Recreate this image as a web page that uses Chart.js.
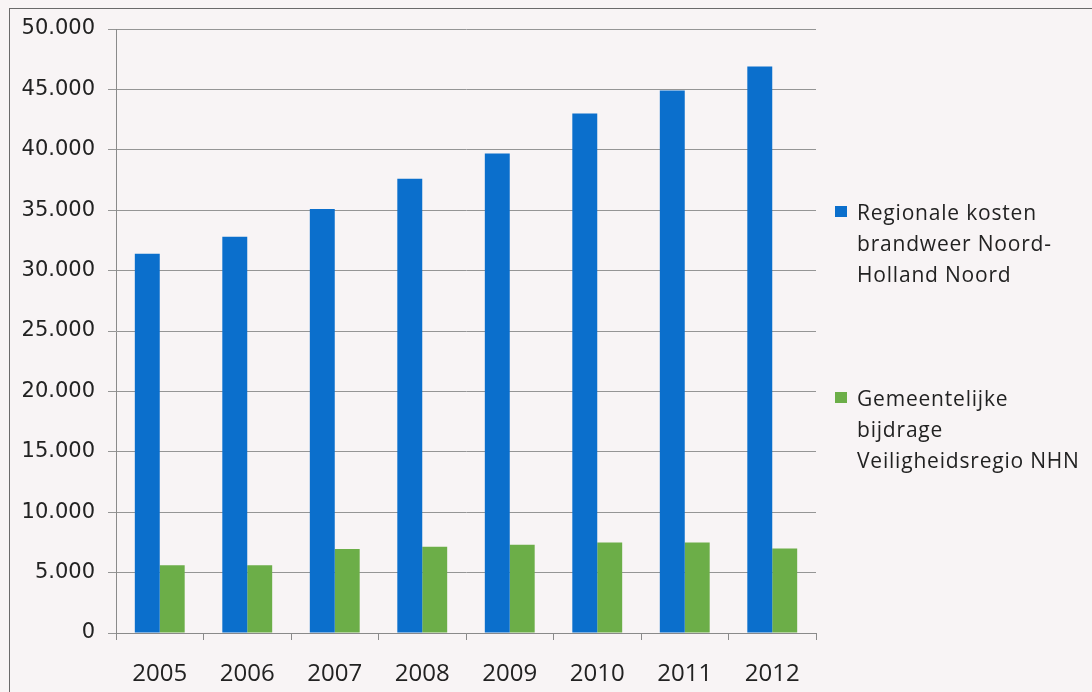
<!DOCTYPE html>
<html>
<head>
<meta charset="utf-8">
<script src="https://cdn.jsdelivr.net/npm/chart.js@4"></script>
<style>
    html, body { margin: 0; padding: 0; background: #f8f4f5; }
    #wrap { position: relative; width: 1092px; height: 692px; overflow: hidden; }
    #frame { position: absolute; left: 9px; top: 8px; width: 1200px; height: 800px; border: 1px solid #6a6a6a; }
    canvas { position: absolute; left: 0; top: 0; }
    .legend-item { position: absolute; left: 835px; font-family: "Open Sans", sans-serif; font-size: 21px; line-height: 31px; color: #222; letter-spacing: 0.8px; }
    .legend-item .box { position: absolute; left: 0; top: 9px; width: 12px; height: 11px; }
    .legend-item .txt { margin-left: 22px; white-space: nowrap; }
</style>
</head>
<body>
<div id="wrap">
    <div id="frame"></div>
    <canvas id="chart" width="1092" height="692"></canvas>
    <div id="legend"></div>
</div>
<script>
// ================== Data ==================
const years = ["2005", "2006", "2007", "2008", "2009", "2010", "2011", "2012"];
const regionaleKosten = [31400, 32800, 35100, 37600, 39700, 43000, 44900, 46900];
const gemeentelijkeBijdrage = [5600, 5600, 6950, 7150, 7300, 7500, 7500, 7000];
const seriesLabels = [
    ["Regionale kosten", "brandweer Noord-", "Holland Noord"],
    ["Gemeentelijke", "bijdrage", "Veiligheidsregio NHN"]
];
const seriesColors = ["#0b6fcc", "#6cae48"];
const yTicks = [0, 5000, 10000, 15000, 20000, 25000, 30000, 35000, 40000, 45000, 50000];

// ================== Legend (html) ==================
const legendTops = [197, 383];
const legend = document.getElementById("legend");
seriesLabels.forEach((lines, i) => {
    const item = document.createElement("div");
    item.className = "legend-item";
    item.style.top = legendTops[i] + "px";
    item.innerHTML = `<span class="box" style="background:${seriesColors[i]}"></span>` +
        `<div class="txt">${lines.join("<br>")}</div>`;
    legend.appendChild(item);
});

// ================== Chart ==================
const fmt = v => v === 0 ? "0" : v.toLocaleString("nl-NL");

new Chart(document.getElementById("chart"), {
    type: "bar",
    data: {
        labels: years,
        datasets: [
            { label: seriesLabels[0].join(" "), data: regionaleKosten, backgroundColor: seriesColors[0] },
            { label: seriesLabels[1].join(" "), data: gemeentelijkeBijdrage, backgroundColor: seriesColors[1] }
        ]
    },
    options: {
        responsive: false,
        animation: false,
        devicePixelRatio: 1,
        layout: { padding: { top: 29, right: 276, left: 0, bottom: 0 } },
        datasets: { bar: { barPercentage: 1, categoryPercentage: 0.57 } },
        plugins: { legend: { display: false }, tooltip: { enabled: false } },
        scales: {
            x: {
                afterFit: s => { s.height = 59; },
                grid: { drawOnChartArea: false, offset: true, tickLength: 7, color: "#8a8a8a" },
                border: { color: "#8a8a8a" },
                ticks: { color: "#222", padding: 20, font: { family: "Open Sans", size: 24 } }
            },
            y: {
                min: 0,
                max: 50000,
                afterFit: s => { s.width = 116; },
                afterBuildTicks: s => { s.ticks = yTicks.map(v => ({ value: v })); },
                grid: { color: "#959595", tickLength: 8 },
                border: { color: "#8a8a8a" },
                ticks: { color: "#222", padding: 13, font: { family: "DejaVu Sans", size: 21 }, callback: v => fmt(v) }
            }
        }
    }
});
</script>
</body>
</html>
